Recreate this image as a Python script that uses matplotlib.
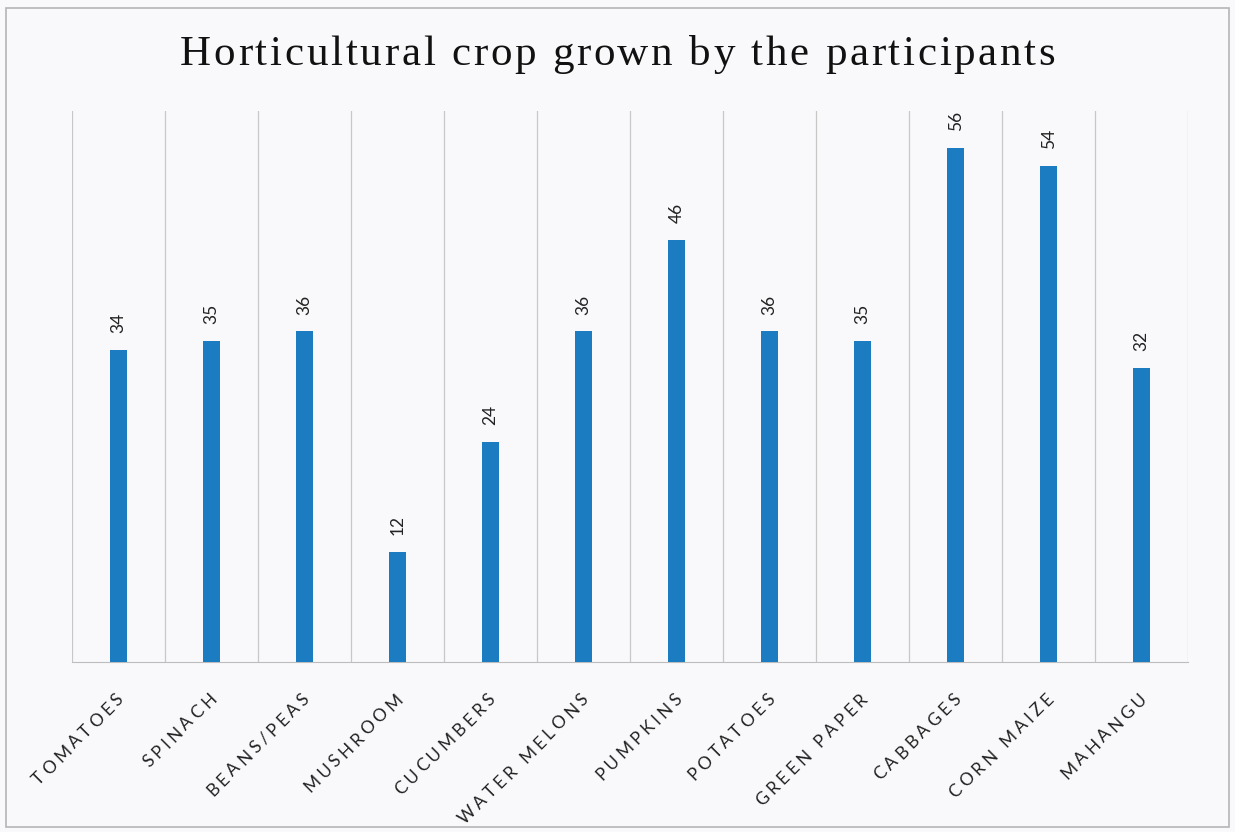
import matplotlib
matplotlib.use('Agg')
import matplotlib.pyplot as plt
import numpy as np
from matplotlib.patches import Rectangle
from matplotlib.transforms import IdentityTransform
from matplotlib.font_manager import FontProperties

crops = ['TOMATOES', 'SPINACH', 'BEANS/PEAS', 'MUSHROOM', 'CUCUMBERS', 'WATER MELONS',
         'PUMPKINS', 'POTATOES', 'GREEN PAPER', 'CABBAGES', 'CORN MAIZE', 'MAHANGU']
counts = [34, 35, 36, 12, 24, 36, 46, 36, 35, 56, 54, 32]
title = 'Horticultural crop grown by the participants'

W, H = 1235, 832
fig = plt.figure(figsize=(W / 100, H / 100), dpi=100)
fig.patch.set_facecolor('#f9f9fb')
renderer = fig.canvas.get_renderer()

# outer chart frame
fig.patches.append(Rectangle((0.005, 0.006), 0.99, 0.984, transform=fig.transFigure,
                             fill=False, edgecolor='#b5b5b5', linewidth=1.2))


def advance(ch, prop):
    # width a char adds, measured between two x's
    w2, _, _ = renderer.get_text_width_height_descent('xx', prop, ismath=False)
    w3, _, _ = renderer.get_text_width_height_descent('x' + ch + 'x', prop, ismath=False)
    return w3 - w2


def spaced_text(s, x, y, angle, size, family, spacing, align='left', color='#222222',
                width=None):
    # draw s letter by letter with extra tracking, (x, y) in pixels from bottom-left
    prop = FontProperties(family=family, size=size)
    adv = [advance(c, prop) for c in s]
    if width is not None:
        spacing = (width - sum(adv)) / (len(s) - 1)
    total = sum(adv) + spacing * (len(s) - 1)
    if align == 'right':
        start = -total
    elif align == 'center':
        start = -total / 2
    else:
        start = 0
    ca, sa = np.cos(np.radians(angle)), np.sin(np.radians(angle))
    pos = start
    for c, a in zip(s, adv):
        fig.text(x + pos * ca, y + pos * sa, c, transform=IdentityTransform(),
                 fontproperties=prop, rotation=angle, rotation_mode='anchor',
                 ha='left', va='baseline', color=color)
        pos += a + spacing


ax = fig.add_axes([0.0583, 0.2043, 0.9037, 0.6623])
ax.set_facecolor('none')
x = np.arange(len(crops))
ax.bar(x, counts, width=0.175, color='#1b7cc2', zorder=3)

ax.set_xlim(-0.5, len(crops) - 0.5)
ax.set_ylim(0, 60)

# vertical grid between categories
for b in np.arange(-0.5, len(crops), 1.0):
    ax.axvline(b, color='#c8c8c8', linewidth=0.9, zorder=1)

for s in ['top', 'left', 'right']:
    ax.spines[s].set_visible(False)
ax.spines['bottom'].set_color('#bdbdbd')
ax.set_yticks([])
ax.set_xticks([])

for xi, v in zip(x, counts):
    ax.annotate(str(v), (xi, v), xytext=(0, 12), textcoords='offset points',
                rotation=90, ha='center', va='bottom', fontsize=12.5,
                family='Lato', color='#222222')

# category labels, letter spaced, ending near each bar
for xi, name in zip(x, crops):
    px, py = ax.transData.transform((xi, 0))
    spaced_text(name, px + 6, py - 38, 45, 12.5, 'Lato', 3.6, align='right')

spaced_text(title, 180, H - 65, 0, 31, 'Liberation Serif', 0, align='left',
            color='#111111', width=875)

fig.savefig('out.png', dpi=100)
